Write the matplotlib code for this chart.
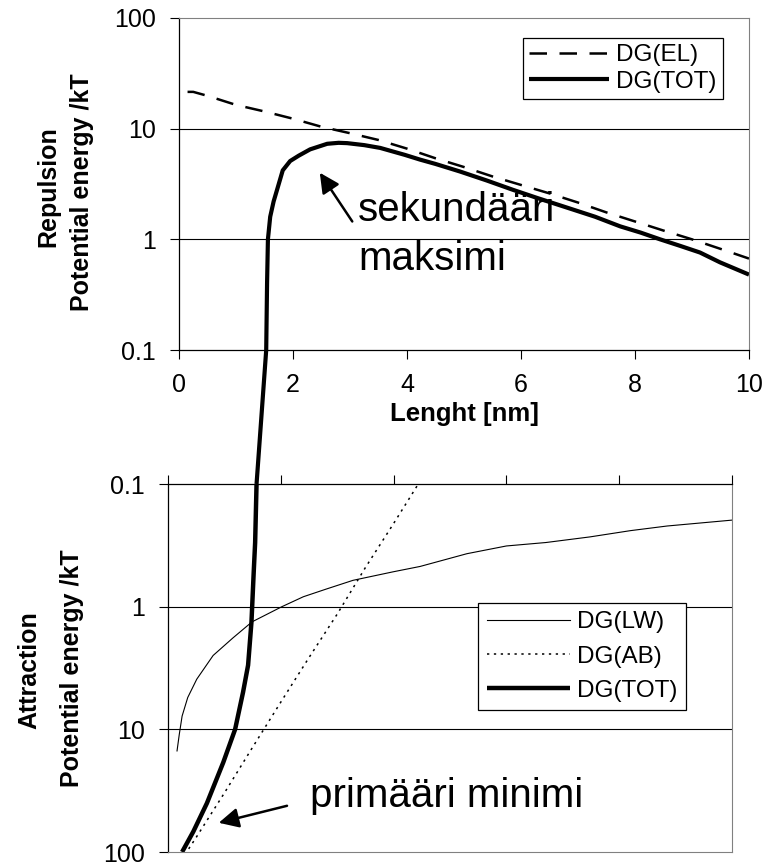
import matplotlib
matplotlib.use("Agg")
import matplotlib.pyplot as plt
from matplotlib.ticker import NullLocator
from matplotlib.patches import ConnectionPatch

plt.rcParams['font.family'] = ['Liberation Sans', 'DejaVu Sans']

# ---------------- data ----------------
# Repulsion panel
x_el = [0.15, 0.25, 0.5, 1.0, 1.5, 2.0, 2.5, 3.0, 3.5, 4.0, 4.5, 5.0, 5.5,
        6.0, 6.5, 7.0, 7.5, 8.0, 8.5, 9.0, 9.5, 10.0]
y_el = [21.5, 21.5, 19.8, 16.4, 14.3, 12.3, 10.4, 9.1, 7.9, 6.6, 5.4, 4.5, 3.7,
        3.1, 2.6, 2.15, 1.75, 1.45, 1.2, 1.0, 0.82, 0.67]

x_tot_rep = [1.53, 1.545, 1.56, 1.60, 1.66, 1.72, 1.82, 1.95, 2.1, 2.3, 2.6, 2.8,
             2.95, 3.25, 3.53, 3.96, 4.23, 4.5, 4.93, 5.4, 5.86, 6.3, 6.8, 7.3,
             7.74, 8.1, 8.44, 8.8, 9.14, 9.49, 10.0]
y_tot_rep = [0.1, 0.4, 1.0, 1.6, 2.2, 2.8, 4.2, 5.1, 5.7, 6.5, 7.3, 7.45,
             7.4, 7.1, 6.7, 5.8, 5.25, 4.8, 4.1, 3.4, 2.8, 2.35, 1.94, 1.6,
             1.31, 1.15, 1.0, 0.87, 0.76, 0.62, 0.48]

# Attraction panel (magnitudes)
x_lw = [0.16, 0.2, 0.25, 0.35, 0.51, 0.8, 1.15, 1.49, 2.02, 2.4, 2.8, 3.28,
        3.99, 4.47, 5.3, 6.0, 6.7, 7.48, 8.2, 8.85, 10.0]
y_lw = [15, 11, 7.8, 5.5, 3.9, 2.5, 1.8, 1.33, 1.0, 0.83, 0.72, 0.61,
        0.52, 0.47, 0.37, 0.32, 0.30, 0.27, 0.24, 0.22, 0.197]

x_ab = [0.3, 0.5, 1.0, 1.5, 2.0, 2.5, 3.0, 3.5, 4.0, 4.5]
y_ab = [105, 76, 33, 14, 6.0, 2.6, 1.15, 0.48, 0.21, 0.09]

x_tot_att = [1.57, 1.545, 1.52, 1.48, 1.42, 1.33, 1.19, 0.98, 0.69, 0.45, 0.25]
y_tot_att = [0.1, 0.3, 0.52, 1.33, 3.0, 5.0, 10, 18.6, 40, 68, 100]

x_ticks = [0, 2, 4, 6, 8, 10]
x_ticklabels = ['0', '2', '4', '6', '8', '10']
y_ticks = [0.1, 1, 10, 100]
y_ticklabels = ['0.1', '1', '10', '100']

# ---------------- figure ----------------
fig = plt.figure(figsize=(7.71, 8.64), dpi=100)
ax1 = fig.add_axes([179/771, 1-350/864, 570/771, 332/864])
ax2 = fig.add_axes([168/771, 1-852/864, 564/771, 368/864])

TICK_FS = 18
GRAY = '#808080'

# ---- top panel ----
ax1.plot(x_el, y_el, color='k', lw=1.8, dashes=(7, 5), label='DG(EL)')
ax1.plot(x_tot_rep, y_tot_rep, color='k', lw=3.0, label='DG(TOT)',
         solid_capstyle='butt')
ax1.set_yscale('log')
ax1.set_xlim(0, 10)
ax1.set_ylim(0.1, 100)
ax1.set_yticks(y_ticks)
ax1.set_yticklabels(y_ticklabels)
ax1.yaxis.set_minor_locator(NullLocator())
ax1.set_xticks(x_ticks)
ax1.set_xticklabels(x_ticklabels)
ax1.tick_params(axis='both', direction='out', length=6.5, width=0.8,
                labelsize=TICK_FS, pad=10)
for yv in [1, 10]:
    ax1.axhline(yv, color='k', lw=0.8, zorder=0.5)
ax1.spines['top'].set_color(GRAY)
ax1.spines['right'].set_color(GRAY)
ax1.spines['left'].set_linewidth(0.9)
ax1.spines['bottom'].set_linewidth(0.9)
ax1.set_xlabel('Lenght [nm]', fontsize=18.5, fontweight='bold', labelpad=4)

leg1 = ax1.legend(loc='upper right', bbox_to_anchor=(0.954, 0.94), fontsize=17.5,
                  frameon=True, fancybox=False, edgecolor='k', framealpha=1,
                  handlelength=3.3, handletextpad=0.3, labelspacing=0.2,
                  borderpad=0.25, borderaxespad=0)
leg1.get_frame().set_linewidth(0.9)

# annotation sekundääri maksimi
ax1.annotate('', xy=(2.47, 4.0), xytext=(3.04, 1.45),
             arrowprops=dict(arrowstyle='-|>', color='k', lw=1.8,
                             mutation_scale=30, shrinkA=0, shrinkB=0))
ax1.text(3.14, 1.45, 'sekundääri', fontsize=29, ha='left', va='baseline')
ax1.text(3.14, 0.53, 'maksimi', fontsize=29, ha='left', va='baseline')

# ---- bottom panel ----
ax2.plot(x_lw, y_lw, color='k', lw=0.8, label='DG(LW)')
ax2.plot(x_ab, y_ab, color='k', lw=1.1, dashes=(1.5, 3.0), label='DG(AB)')
ax2.plot(x_tot_att, y_tot_att, color='k', lw=3.2, label='DG(TOT)',
         solid_capstyle='butt')
ax2.set_yscale('log')
ax2.set_xlim(0, 10)
ax2.set_ylim(100, 0.1)
ax2.set_yticks(y_ticks)
ax2.set_yticklabels(y_ticklabels)
ax2.yaxis.set_minor_locator(NullLocator())
ax2.set_xticks(x_ticks)
ax2.xaxis.tick_top()
ax2.tick_params(axis='x', labeltop=False, labelbottom=False, direction='out',
                length=6.5, width=0.8)
ax2.tick_params(axis='y', direction='out', length=6.5, width=0.8,
                labelsize=TICK_FS, pad=10)
for yv in [1, 10]:
    ax2.axhline(yv, color='k', lw=0.8, zorder=0.5)
ax2.spines['bottom'].set_color(GRAY)
ax2.spines['right'].set_color(GRAY)
ax2.spines['left'].set_linewidth(0.9)
ax2.spines['top'].set_linewidth(0.9)

leg2 = ax2.legend(loc='upper right', bbox_to_anchor=(0.918, 0.677), fontsize=17.5,
                  frameon=True, fancybox=False, edgecolor='k', framealpha=1,
                  handlelength=3.4, handletextpad=0.3, labelspacing=0.5,
                  borderpad=0.35, borderaxespad=0)
leg2.get_frame().set_linewidth(0.9)

ax2.annotate('', xy=(0.90, 57.8), xytext=(2.11, 42),
             arrowprops=dict(arrowstyle='-|>', color='k', lw=1.8,
                             mutation_scale=30, shrinkA=0, shrinkB=0))
ax2.text(2.52, 42.8, 'primääri minimi', fontsize=29, ha='left', va='baseline')

# connecting piece of DG(TOT) across the gap between panels
con = ConnectionPatch(xyA=(x_tot_rep[0], y_tot_rep[0]), coordsA=ax1.transData,
                      xyB=(x_tot_att[0], y_tot_att[0]), coordsB=ax2.transData,
                      color='k', lw=3.0, capstyle='butt')
fig.add_artist(con)

# y-axis labels
fig.text(48/771, 1-187/864, 'Repulsion', rotation=90, fontsize=18,
         fontweight='bold', ha='center', va='center')
fig.text(82/771, 1-192/864, 'Potential energy /kT', rotation=90, fontsize=18,
         fontweight='bold', ha='center', va='center')
fig.text(29/771, 1-670/864, 'Attraction', rotation=90, fontsize=18,
         fontweight='bold', ha='center', va='center')
fig.text(72/771, 1-668/864, 'Potential energy /kT', rotation=90, fontsize=18,
         fontweight='bold', ha='center', va='center')

fig.savefig('out.png', dpi=100)
